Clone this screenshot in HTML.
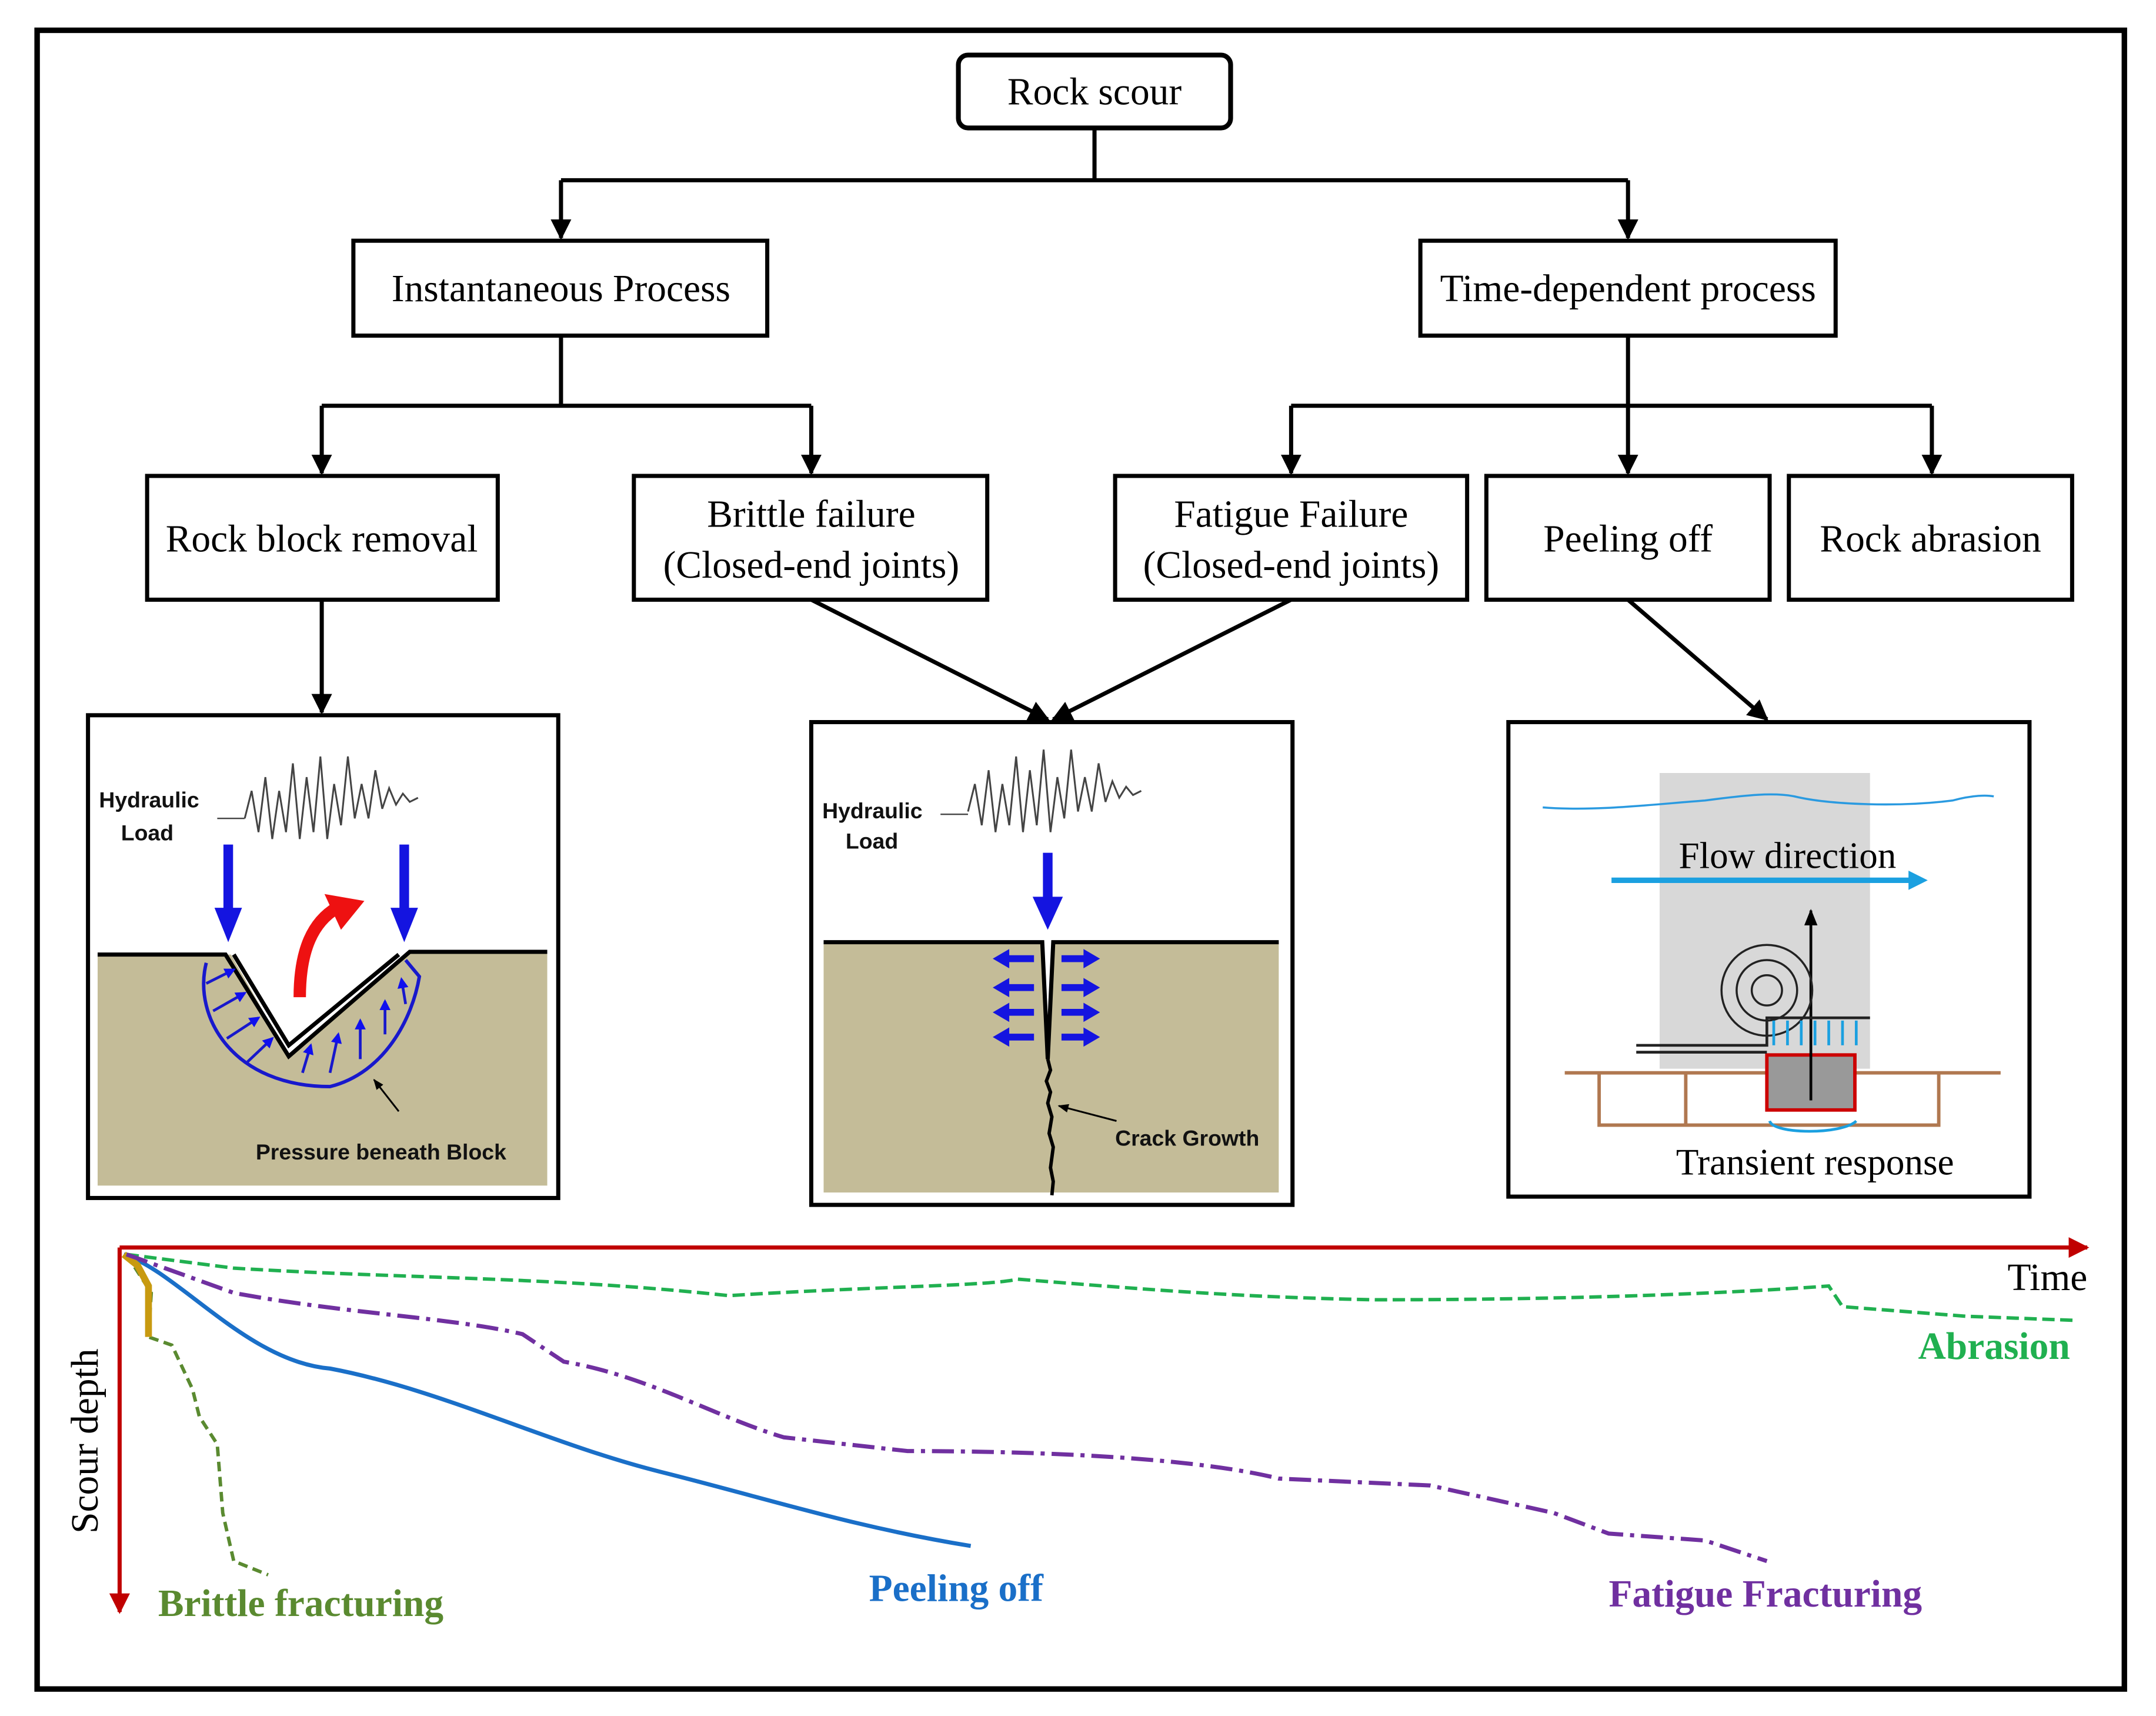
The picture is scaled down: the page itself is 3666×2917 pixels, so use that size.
<!DOCTYPE html>
<html><head><meta charset="utf-8"><style>html,body{margin:0;padding:0;background:#fff}svg{display:block}</style></head><body>
<svg width="3666" height="2917" viewBox="0 0 1568 1247.6" xmlns="http://www.w3.org/2000/svg">
<defs>
<marker id="a" viewBox="0 0 10 10" refX="9" refY="5" markerWidth="5" markerHeight="5" orient="auto" markerUnits="strokeWidth"><path d="M0,0L10,5L0,10z" fill="#000"/></marker>
<marker id="r" viewBox="0 0 10 10" refX="9" refY="5" markerWidth="5" markerHeight="5" orient="auto"><path d="M0,0L10,5L0,10z" fill="#c00000"/></marker>
<marker id="b" viewBox="0 0 10 10" refX="8" refY="5" markerWidth="4" markerHeight="4" orient="auto"><path d="M0,0L10,5L0,10z" fill="#1010ee"/></marker>
<marker id="s" viewBox="0 0 10 10" refX="9" refY="5" markerWidth="6" markerHeight="6" orient="auto"><path d="M0,1L10,5L0,9z" fill="#000"/></marker>
</defs>
<rect x="27" y="22" width="1518" height="1206" fill="none" stroke="#000" stroke-width="4"/>
<g font-family="Liberation Serif, serif" font-size="28" text-anchor="middle" fill="#000">
<rect x="697" y="40" width="198" height="53" rx="7" fill="none" stroke="#000" stroke-width="3.5"/>
<text x="796" y="76">Rock scour</text>
<g fill="none" stroke="#000" stroke-width="3">
<path d="M796,93V131M408,131H1184M408,244V295M234,295H590M1184,244V295M939,295H1405"/>
<path d="M408,131V173" marker-end="url(#a)"/>
<path d="M1184,131V173" marker-end="url(#a)"/>
<path d="M234,295V344" marker-end="url(#a)"/>
<path d="M590,295V344" marker-end="url(#a)"/>
<path d="M1184,295V344" marker-end="url(#a)"/>
<path d="M939,295V344" marker-end="url(#a)"/>
<path d="M1405,295V344" marker-end="url(#a)"/>
<path d="M234,436V518" marker-end="url(#a)"/>
<path d="M590,436L762,523" marker-end="url(#a)"/>
<path d="M939,436L766,523" marker-end="url(#a)"/>
<path d="M1184,436L1285,523" marker-end="url(#a)"/>
<rect x="257" y="175" width="301" height="69"/>
<rect x="1033" y="175" width="302" height="69"/>
<rect x="107" y="346" width="255" height="90"/>
<rect x="461" y="346" width="257" height="90"/>
<rect x="811" y="346" width="256" height="90"/>
<rect x="1081" y="346" width="206" height="90"/>
<rect x="1301" y="346" width="206" height="90"/>
</g>
<text x="408" y="219">Instantaneous Process</text>
<text x="1184" y="219">Time-dependent process</text>
<text x="234" y="401">Rock block removal</text>
<text x="590" y="383">Brittle failure</text>
<text x="590" y="420">(Closed-end joints)</text>
<text x="939" y="383">Fatigue Failure</text>
<text x="939" y="420">(Closed-end joints)</text>
<text x="1184" y="401">Peeling off</text>
<text x="1404" y="401">Rock abrasion</text>
</g>
<!-- Panel 1 -->
<rect x="64" y="520" width="342" height="351" fill="#fff" stroke="#000" stroke-width="3"/>
<path d="M71,694H168L210,768L298,692H398V862H71Z" fill="#c4bc98"/>
<path d="M71,694H164L210,768L298,692H398" fill="none" stroke="#000" stroke-width="3"/>
<path d="M170,694L210,760L290,694" fill="none" stroke="#000" stroke-width="3"/>
<path d="M150,700C140,740 170,790 240,790C280,780 300,740 305,710L295,698" fill="none" stroke="#1818cc" stroke-width="2.5"/>
<g stroke="#1818cc" stroke-width="2" marker-end="url(#b)"><path d="M150,715L170,705"/><path d="M155,735L178,722"/><path d="M165,755L188,740"/><path d="M180,772L198,755"/><path d="M220,780L226,760"/><path d="M240,780L246,752"/><path d="M262,770L262,742"/><path d="M280,752L280,728"/><path d="M295,730L292,712"/></g>
<path d="M178,595l5,-20 5,30 5,-40 5,45 5,-35 5,30 5,-50 5,55 5,-45 5,40 5,-55 5,60 5,-40 5,30 5,-50 5,45 5,-25 5,25 5,-35 5,28 5,-15 5,12 5,-8 5,6 6,-3" fill="none" stroke="#444" stroke-width="1.3"/>
<path d="M158,595H178" stroke="#444"/>
<path d="M166,614V666" stroke="#1414e0" stroke-width="7"/><path d="M156,660H176L166,685Z" fill="#1414e0"/>
<path d="M294,614V666" stroke="#1414e0" stroke-width="7"/><path d="M284,660H304L294,685Z" fill="#1414e0"/>
<path d="M218,725C218,690 228,670 245,660" fill="none" stroke="#ee1111" stroke-width="9"/><path d="M236,650L265,655L248,676Z" fill="#ee1111"/>
<path d="M290,808L272,785" stroke="#000" stroke-width="1.3" marker-end="url(#s)"/>
<!-- Panel 2 -->
<rect x="590" y="525" width="350" height="351" fill="#fff" stroke="#000" stroke-width="3"/>
<path d="M599,685H758L762,770L766,685H930V867H599Z" fill="#c4bc98"/>
<path d="M599,685H758L762,770L766,685H930" fill="none" stroke="#000" stroke-width="3"/>
<path d="M762,770l2,8 -3,8 3,8 -2,8 3,10 -2,12 3,10 -2,15 2,10 -1,10" fill="none" stroke="#000" stroke-width="2.5"/>
<path d="M704,590l5,-20 5,30 5,-40 5,45 5,-35 5,30 5,-50 5,55 5,-45 5,40 5,-55 5,60 5,-40 5,30 5,-50 5,45 5,-25 5,25 5,-35 5,28 5,-15 5,12 5,-8 5,6 6,-3" fill="none" stroke="#444" stroke-width="1.3"/>
<path d="M684,592H704" stroke="#444"/>
<path d="M762,620V655" stroke="#1414e0" stroke-width="7"/><path d="M751,652H773L762,676Z" fill="#1414e0"/>
<g stroke="#1414e0" stroke-width="5"><path d="M752,697H730M752,718H730M752,736H730M752,754H730M772,697H792M772,718H792M772,736H792M772,754H792"/></g>
<g fill="#1414e0"><path d="M722,697l12,-7v14zM722,718l12,-7v14zM722,736l12,-7v14zM722,754l12,-7v14zM800,697l-12,-7v14zM800,718l-12,-7v14zM800,736l-12,-7v14zM800,754l-12,-7v14z"/></g>
<path d="M812,815L770,804" stroke="#000" stroke-width="1.3" marker-end="url(#s)"/>
<g font-family="Liberation Sans, sans-serif" font-weight="bold" font-size="16" fill="#111">
<text x="72" y="587">Hydraulic</text><text x="88" y="611">Load</text>
<text x="186" y="843">Pressure beneath Block</text>
<text x="598" y="595">Hydraulic</text><text x="615" y="617">Load</text>
<text x="811" y="833">Crack Growth</text>
</g>
<!-- Panel 3 -->
<rect x="1097" y="525" width="379" height="345" fill="#fff" stroke="#000" stroke-width="3"/>
<rect x="1207" y="562" width="153" height="215" fill="#d8d8d8"/>
<path d="M1122,587C1160,590 1200,585 1240,582C1270,578 1290,576 1305,579C1330,585 1380,587 1420,582C1435,578 1445,578 1450,579" fill="none" stroke="#2a9ae0" stroke-width="1.5"/>
<path d="M1172,640H1390" stroke="#1ba0e0" stroke-width="4"/><path d="M1388,633L1402,640L1388,647Z" fill="#1ba0e0"/>
<path d="M1138,780H1455M1163,780V818H1410V780M1226,780V818" fill="none" stroke="#b07850" stroke-width="2.5"/>
<rect x="1285" y="767" width="64" height="40" fill="#999" stroke="#c00" stroke-width="2.5"/>
<path d="M1317,800V662" stroke="#000" stroke-width="2" marker-end="url(#s)"/>
<circle cx="1285" cy="720" r="33" fill="none" stroke="#222" stroke-width="1.5"/>
<circle cx="1285" cy="720" r="22" fill="none" stroke="#222" stroke-width="1.5"/>
<circle cx="1285" cy="720" r="11" fill="none" stroke="#222" stroke-width="1.5"/>
<path d="M1190,760H1285V740H1360M1190,765H1285" fill="none" stroke="#222" stroke-width="2"/>
<g stroke="#1ba0e0" stroke-width="2"><path d="M1290,742V760M1300,742V760M1310,742V760M1320,742V760M1330,742V760M1340,742V760M1350,742V760"/></g>
<path d="M1287,815C1290,825 1340,825 1350,815" fill="none" stroke="#1ba0e0" stroke-width="2"/>
<g font-family="Liberation Serif, serif" font-size="27" text-anchor="middle" fill="#000">
<text x="1300" y="631">Flow direction</text>
<text x="1320" y="854">Transient response</text>
</g>
<!-- Graph -->
<path d="M87,907H1518" stroke="#c00000" stroke-width="3" marker-end="url(#r)"/>
<path d="M87,907V1172" stroke="#c00000" stroke-width="3" marker-end="url(#r)"/>
<path d="M90,912C130,925 180,990 240,995C320,1010 400,1050 480,1070C560,1090 620,1110 706,1124" fill="none" stroke="#1a6fc8" stroke-width="3"/>
<path d="M92,912L110,940L108,972 L125,978L140,1010L145,1030L158,1050L162,1100L170,1135L195,1145" fill="none" stroke="#5a8a30" stroke-width="2.5" stroke-dasharray="7,4"/>
<path d="M90,912L100,920L108,935L108,972" fill="none" stroke="#c89a10" stroke-width="5"/>
<path d="M92,912L170,922C300,930 400,928 530,942C640,935 720,935 740,930C840,938 900,943 1000,945C1150,945 1260,940 1330,935L1340,950L1430,957L1510,960" fill="none" stroke="#20b050" stroke-width="2.5" stroke-dasharray="9,4"/>
<path d="M92,912L170,940C250,955 330,958 380,970L410,990C470,1000 520,1030 570,1045L660,1055C760,1055 870,1060 930,1075L1040,1080L1130,1100L1170,1115L1240,1120L1285,1135" fill="none" stroke="#7030a0" stroke-width="3" stroke-dasharray="16,5,3,5"/>
<g font-family="Liberation Serif, serif" font-size="28" fill="#000">
<text x="1460" y="938">Time</text>
<text transform="translate(71,1115) rotate(-90)">Scour depth</text>
</g>
<g font-family="Liberation Serif, serif" font-size="28" font-weight="bold">
<text x="1395" y="988" fill="#20b050">Abrasion</text>
<text x="115" y="1175" fill="#5a8a30">Brittle fracturing</text>
<text x="632" y="1164" fill="#1a6fc8">Peeling off</text>
<text x="1170" y="1168" fill="#7030a0">Fatigue Fracturing</text>
</g>
</svg>
</body></html>
